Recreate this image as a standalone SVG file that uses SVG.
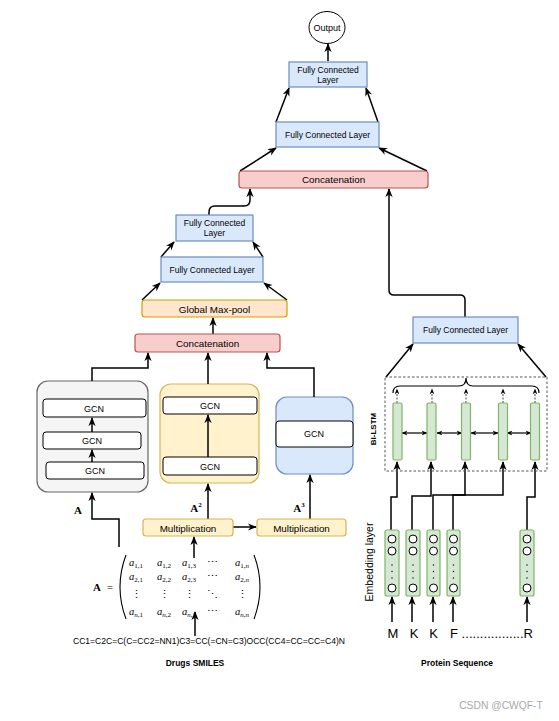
<svg xmlns="http://www.w3.org/2000/svg" width="559" height="721" viewBox="0 0 559 721">
<style>
text{font-family:"Liberation Sans",Arial,sans-serif;fill:#000}
.fc{fill:#dae8fc;stroke:#6c8ebf;stroke-width:1.2}
.cat{fill:#f8cecc;stroke:#b85450;stroke-width:1.2}
.mp{fill:#ffe6cc;stroke:#d79b00;stroke-width:1.2}
.mul{fill:#fff2cc;stroke:#d6b656;stroke-width:1.2}
.gcn{fill:#fff;stroke:#000;stroke-width:1}
.cell{fill:#d5e8d4;stroke:#82b366;stroke-width:1.2}
.c{fill:none;stroke:#000;stroke-width:1.5}
.a{marker-end:url(#arr)}
.m{font-family:"Liberation Serif","Times New Roman",serif;font-size:10.5px}
.s{font-family:"Liberation Serif","Times New Roman",serif;font-size:11px;font-weight:bold}
.nd{fill:#fff;stroke:#000;stroke-width:1}
</style>
<defs>
<marker id="arr" viewBox="0 0 10 10" refX="9" refY="5" markerWidth="9" markerHeight="9" markerUnits="userSpaceOnUse" orient="auto-start-reverse"><path d="M0,1 L10,5 L0,9 L3,5 z" fill="#000"/></marker>
<marker id="sa" viewBox="0 0 10 10" refX="9" refY="5" markerWidth="6" markerHeight="6" markerUnits="userSpaceOnUse" orient="auto-start-reverse"><path d="M0,1 L10,5 L0,9 L3,5 z" fill="#000"/></marker>
</defs>
<rect width="559" height="721" fill="#fff"/>

<g id="gcn-stack-3"><rect x="37" y="381" width="111" height="111" rx="11" fill="#f5f5f5" stroke="#666" stroke-width="1.2"/>
<rect class="gcn" x="43" y="399" width="103" height="18" rx="3"/><text x="94" y="411.5" font-size="9" text-anchor="middle">GCN</text>
<rect class="gcn" x="43" y="432" width="98" height="17" rx="3"/><text x="92" y="444" font-size="9" text-anchor="middle">GCN</text>
<rect class="gcn" x="46" y="462" width="98" height="17" rx="3"/><text x="95" y="474" font-size="9" text-anchor="middle">GCN</text></g>
<g id="gcn-stack-2"><rect x="160" y="384" width="99" height="99" rx="11" fill="#fff2cc" stroke="#d6b656" stroke-width="1.2"/>
<rect class="gcn" x="163" y="397" width="94" height="17" rx="3"/><text x="210" y="409" font-size="9" text-anchor="middle">GCN</text>
<rect class="gcn" x="163" y="457" width="94" height="18" rx="3"/><text x="210" y="469.5" font-size="9" text-anchor="middle">GCN</text></g>
<g id="gcn-stack-1"><rect x="276" y="397" width="77" height="77" rx="11" fill="#dae8fc" stroke="#6c8ebf" stroke-width="1.2"/>
<rect class="gcn" x="276" y="421" width="77" height="26" rx="3"/><text x="314" y="437" font-size="9" text-anchor="middle">GCN</text></g>

<g id="connectors">
<path class="c a" d="M328,61 L328,44"/>
<path class="c a" d="M276,122 L289,88"/>
<path class="c a" d="M378,122 L366,88"/>
<path class="c a" d="M240,171 L276,148"/>
<path class="c a" d="M427,171 L379,148"/>
<path class="c a" d="M209,215 L209,212 Q209,206 215,206 L244,206 Q250,206 250,200 L250,189"/>
<path class="c a" d="M465,317 L465,300 Q465,295 460,295 L394,295 Q389,295 389,290 L389,189"/>
<path class="c a" d="M161,257 L174,242"/>
<path class="c a" d="M263,257 L253,242"/>
<path class="c a" d="M142,300 L160,283"/>
<path class="c a" d="M287,300 L264,283"/>
<path class="c a" d="M213,334 L213,318"/>
<path class="c a" d="M92,381 L92,368 L148,368 L148,353"/>
<path class="c a" d="M208,384 L208,353"/>
<path class="c a" d="M314,397 L314,368 L267,368 L267,353"/>
<path class="c a" d="M92,462 L92,450"/>
<path class="c a" d="M92,432 L92,418"/>
<path class="c a" d="M208,457 L208,415"/>
<path class="c a" d="M119,547 L119,519 L92,519 L92,493"/>
<path class="c a" d="M208,519 L208,484"/>
<path class="c a" d="M310,519 L310,475"/>
<path class="c a" d="M233,527 L256,527"/>
<path class="c a" d="M194,558 L194,537"/>
<path class="c a" d="M195,636 L195,612"/>
<path class="c a" d="M386,377 L413,344"/>
<path class="c a" d="M546,377 L518,344"/>
<path class="c a" d="M391,530 L391,497 L397,497 L397,462"/>
<path class="c a" d="M412,530 L412,496 L431,496 L431,462"/>
<path class="c a" d="M433,530 L433,495 L465,495 L465,462"/>
<path class="c a" d="M453,530 L453,495 L503,495 L503,462"/>
<path class="c a" d="M527,530 L527,497 L535,497 L535,462"/>
<path class="c a" d="M392,622 L392,597"/>
<path class="c a" d="M412,622 L412,597"/>
<path class="c a" d="M433,622 L433,597"/>
<path class="c a" d="M453,622 L453,597"/>
<path class="c a" d="M527,622 L527,597"/>
<g stroke="#000" stroke-width="1.2" fill="none" marker-start="url(#sa)" marker-end="url(#sa)">
<path d="M402,433 L427,433"/><path d="M437,433 L462,433"/><path d="M471,433 L498,433"/><path d="M507,433 L531,433"/>
</g>
<g stroke="#444" stroke-width="1" stroke-dasharray="2,1.5" fill="none" marker-end="url(#sa)">
<path d="M397,403 L397,389"/><path d="M432,403 L432,389"/><path d="M466,403 L466,389"/><path d="M503,403 L503,389"/><path d="M535,403 L535,389"/>
</g>
<path d="M393,393 Q393,386 400,386 L459,386 Q466,386 466,378 Q466,386 473,386 L532,386 Q539,386 539,393" fill="none" stroke="#000" stroke-width="1.2"/>
</g>

<g id="output"><ellipse cx="327" cy="27.5" rx="18" ry="16" fill="#fff" stroke="#000" stroke-width="1"/><text x="327" y="31" font-size="9" text-anchor="middle">Output</text></g>
<g id="fc-top"><rect class="fc" x="289" y="62" width="78" height="25"/><text x="328" y="72.5" font-size="8.5" text-anchor="middle">Fully Connected</text><text x="328" y="83" font-size="8.5" text-anchor="middle">Layer</text></g>
<g id="fc-top-2"><rect class="fc" x="276" y="122" width="103" height="25"/><text x="327.5" y="137.5" font-size="8.5" text-anchor="middle">Fully Connected Layer</text></g>
<g id="concat-top"><rect class="cat" x="239" y="171" width="189" height="17" rx="3"/><text x="333.5" y="183" font-size="9.8" text-anchor="middle">Concatenation</text></g>
<g id="fc-drug-1"><rect class="fc" x="176" y="215" width="77" height="26"/><text x="214.5" y="225.5" font-size="8.5" text-anchor="middle">Fully Connected</text><text x="214.5" y="236" font-size="8.5" text-anchor="middle">Layer</text></g>
<g id="fc-drug-2"><rect class="fc" x="161" y="257" width="102" height="25"/><text x="212" y="273" font-size="8.5" text-anchor="middle">Fully Connected Layer</text></g>
<g id="maxpool"><rect class="mp" x="142" y="300" width="145" height="17" rx="3"/><text x="214.5" y="312.5" font-size="9.8" text-anchor="middle">Global Max-pool</text></g>
<g id="concat-drug"><rect class="cat" x="135" y="334" width="145" height="18" rx="3"/><text x="207.5" y="347" font-size="9.8" text-anchor="middle">Concatenation</text></g>
<g id="mult-1"><rect class="mul" x="143" y="519" width="90" height="17" rx="3"/><text x="188" y="531.5" font-size="9.8" text-anchor="middle">Multiplication</text></g>
<g id="mult-2"><rect class="mul" x="257" y="519" width="89" height="17" rx="3"/><text x="301.5" y="531.5" font-size="9.8" text-anchor="middle">Multiplication</text></g>

<g id="labels-A">
<text class="s" x="78" y="514" text-anchor="middle">A</text>
<text class="s" x="196" y="512" text-anchor="middle">A<tspan font-size="7" dy="-5">2</tspan></text>
<text class="s" x="299" y="512" text-anchor="middle">A<tspan font-size="7" dy="-5">3</tspan></text>
</g>

<g id="matrix">
<text class="s" x="97" y="591" text-anchor="middle">A</text>
<text class="m" x="110" y="591" text-anchor="middle" font-size="11">=</text>
<path d="M126,555 Q114,587 126,619" fill="none" stroke="#000" stroke-width="1.1"/>
<path d="M254,555 Q266,587 254,619" fill="none" stroke="#000" stroke-width="1.1"/>
<g text-anchor="middle">
<text class="m" x="136" y="566"><tspan font-style="italic">a</tspan><tspan font-size="7" dy="2">1,1</tspan></text>
<text class="m" x="164" y="566"><tspan font-style="italic">a</tspan><tspan font-size="7" dy="2">1,2</tspan></text>
<text class="m" x="189" y="566"><tspan font-style="italic">a</tspan><tspan font-size="7" dy="2">1,3</tspan></text>
<text class="m" x="212" y="566">⋯</text>
<text class="m" x="242" y="566"><tspan font-style="italic">a</tspan><tspan font-size="7" dy="2">1,<tspan font-style="italic">n</tspan></tspan></text>
<text class="m" x="136" y="580"><tspan font-style="italic">a</tspan><tspan font-size="7" dy="2">2,1</tspan></text>
<text class="m" x="164" y="580"><tspan font-style="italic">a</tspan><tspan font-size="7" dy="2">2,2</tspan></text>
<text class="m" x="189" y="580"><tspan font-style="italic">a</tspan><tspan font-size="7" dy="2">2,3</tspan></text>
<text class="m" x="212" y="580">⋯</text>
<text class="m" x="242" y="580"><tspan font-style="italic">a</tspan><tspan font-size="7" dy="2">2,<tspan font-style="italic">n</tspan></tspan></text>
<text class="m" x="136" y="598">⋮</text>
<text class="m" x="164" y="598">⋮</text>
<text class="m" x="189" y="598">⋮</text>
<text class="m" x="212" y="598">⋱</text>
<text class="m" x="242" y="598">⋮</text>
<text class="m" x="136" y="615"><tspan font-style="italic">a</tspan><tspan font-size="7" dy="2"><tspan font-style="italic">n</tspan>,1</tspan></text>
<text class="m" x="164" y="615"><tspan font-style="italic">a</tspan><tspan font-size="7" dy="2"><tspan font-style="italic">n</tspan>,2</tspan></text>
<text class="m" x="189" y="615"><tspan font-style="italic">a</tspan><tspan font-size="7" dy="2"><tspan font-style="italic">n</tspan>,3</tspan></text>
<text class="m" x="212" y="615">⋯</text>
<text class="m" x="242" y="615"><tspan font-style="italic">a</tspan><tspan font-size="7" dy="2"><tspan font-style="italic">n</tspan>,<tspan font-style="italic">n</tspan></tspan></text>
</g>
</g>

<g id="smiles"><text x="209" y="644" font-size="9" text-anchor="middle" textLength="272" lengthAdjust="spacingAndGlyphs">CC1=C2C=C(C=CC2=NN1)C3=CC(=CN=C3)OCC(CC4=CC=CC=C4)N</text></g>
<g id="drugs-title"><text x="195" y="666" font-size="8.5" font-weight="bold" text-anchor="middle">Drugs SMILES</text></g>

<g id="fc-protein"><rect class="fc" x="413" y="317" width="105" height="26"/><text x="465.5" y="333" font-size="8.5" text-anchor="middle">Fully Connected Layer</text></g>

<g id="bilstm">
<rect x="385" y="377" width="162" height="94" fill="none" stroke="#555" stroke-width="1" stroke-dasharray="2.5,2"/>
<rect class="cell" x="393" y="403" width="9" height="57" rx="1.5"/>
<rect class="cell" x="427" y="403" width="9" height="57" rx="1.5"/>
<rect class="cell" x="461.5" y="403" width="9" height="57" rx="1.5"/>
<rect class="cell" x="498.5" y="403" width="9" height="57" rx="1.5"/>
<rect class="cell" x="530.5" y="403" width="9" height="57" rx="1.5"/>
<text transform="translate(376,429) rotate(-90)" font-size="8" font-weight="bold" text-anchor="middle">Bi-LSTM</text>
</g>

<g id="embedding">
<text transform="translate(373,562) rotate(-90)" font-size="10.5" text-anchor="middle">Embedding layer</text>
<g id="emb-M"><rect class="cell" x="385" y="530" width="14" height="66" rx="2"/><circle class="nd" cx="392" cy="539" r="4"/><circle class="nd" cx="392" cy="551" r="4"/><circle class="nd" cx="392" cy="588" r="4"/><g fill="#000"><circle cx="392" cy="565" r="0.7"/><circle cx="392" cy="571.5" r="0.7"/><circle cx="392" cy="578" r="0.7"/></g></g>
<g id="emb-K1"><rect class="cell" x="406" y="530" width="14" height="66" rx="2"/><circle class="nd" cx="413" cy="539" r="4"/><circle class="nd" cx="413" cy="551" r="4"/><circle class="nd" cx="413" cy="588" r="4"/><g fill="#000"><circle cx="413" cy="565" r="0.7"/><circle cx="413" cy="571.5" r="0.7"/><circle cx="413" cy="578" r="0.7"/></g></g>
<g id="emb-K2"><rect class="cell" x="427" y="530" width="13" height="66" rx="2"/><circle class="nd" cx="433.5" cy="539" r="4"/><circle class="nd" cx="433.5" cy="551" r="4"/><circle class="nd" cx="433.5" cy="588" r="4"/><g fill="#000"><circle cx="433.5" cy="565" r="0.7"/><circle cx="433.5" cy="571.5" r="0.7"/><circle cx="433.5" cy="578" r="0.7"/></g></g>
<g id="emb-F"><rect class="cell" x="447" y="530" width="13" height="66" rx="2"/><circle class="nd" cx="453.5" cy="539" r="4"/><circle class="nd" cx="453.5" cy="551" r="4"/><circle class="nd" cx="453.5" cy="588" r="4"/><g fill="#000"><circle cx="453.5" cy="565" r="0.7"/><circle cx="453.5" cy="571.5" r="0.7"/><circle cx="453.5" cy="578" r="0.7"/></g></g>
<g id="emb-R"><rect class="cell" x="520" y="530" width="14" height="66" rx="2"/><circle class="nd" cx="527" cy="539" r="4"/><circle class="nd" cx="527" cy="551" r="4"/><circle class="nd" cx="527" cy="588" r="4"/><g fill="#000"><circle cx="527" cy="565" r="0.7"/><circle cx="527" cy="571.5" r="0.7"/><circle cx="527" cy="578" r="0.7"/></g></g>
</g>

<g id="sequence">
<text x="393" y="638" text-anchor="middle" font-size="13">M</text>
<text x="414" y="638" text-anchor="middle" font-size="13">K</text>
<text x="433.5" y="638" text-anchor="middle" font-size="13">K</text>
<text x="450" y="638" font-size="13" textLength="83" lengthAdjust="spacing">F .................R</text>
</g>
<g id="protein-title"><text x="457" y="666" font-size="8.5" font-weight="bold" text-anchor="middle">Protein Sequence</text></g>
<text x="501" y="709" font-size="10.3" style="fill:#aaa" text-anchor="middle">CSDN @CWQF-T</text>
</svg>
